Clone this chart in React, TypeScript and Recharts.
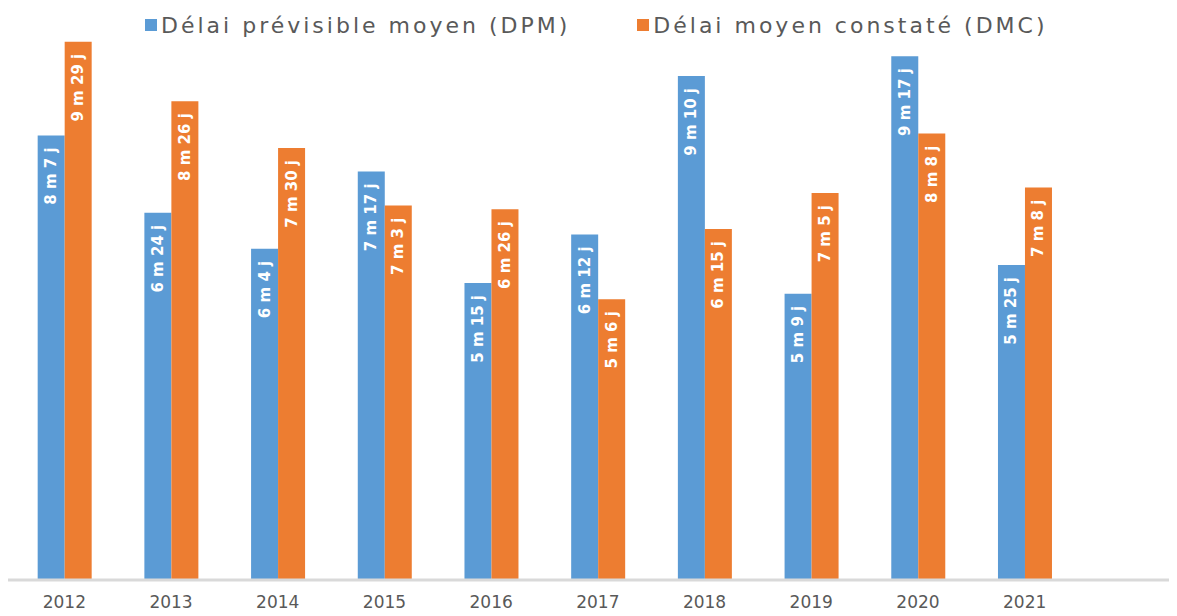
import React from 'react';
import { Bar, BarChart, LabelList, Legend, XAxis, YAxis } from 'recharts';

const years = ['2012', '2013', '2014', '2015', '2016', '2017', '2018', '2019', '2020', '2021'];

// durations in days (months x 30 + days)
const dpmValues = [247, 204, 184, 227, 165, 192, 280, 159, 291, 175];
const dmcValues = [299, 266, 240, 208, 206, 156, 195, 215, 248, 218];

const dpmLabels = ['8 m 7 j', '6 m 24 j', '6 m 4 j', '7 m 17 j', '5 m 15 j', '6 m 12 j', '9 m 10 j', '5 m 9 j', '9 m 17 j', '5 m 25 j'];
const dmcLabels = ['9 m 29 j', '8 m 26 j', '7 m 30 j', '7 m 3 j', '6 m 26 j', '5 m 6 j', '6 m 15 j', '7 m 5 j', '8 m 8 j', '7 m 8 j'];

const seriesNames = ['Délai prévisible moyen (DPM)', 'Délai moyen constaté (DMC)'];
const colors = ['#5B9BD5', '#ED7D31'];

const data = years.map((year, i) => ({
  year,
  dpm: dpmValues[i],
  dmc: dmcValues[i],
  dpmLabel: dpmLabels[i],
  dmcLabel: dmcLabels[i],
}));

const font = '"DejaVu Sans", sans-serif';

function BarLabel(props: any) {
  const { x, y, width, value } = props;
  const cx = Number(x) + Number(width) / 2;
  const ty = Number(y) + 12;
  return (
    <text
      x={cx}
      y={ty}
      transform={`rotate(-90 ${cx} ${ty})`}
      textAnchor="end"
      dominantBaseline="central"
      fill="#fff"
      fontWeight="bold"
      fontSize={15}
      fontFamily={font}
    >
      {value}
    </text>
  );
}

function TopLegend() {
  return (
    <div style={{ display: 'flex', height: 30, alignItems: 'center', fontFamily: font }}>
      {seriesNames.map((name, i) => (
        <div key={name} style={{ display: 'flex', alignItems: 'center', marginLeft: i === 0 ? 137 : 67 }}>
          <span style={{ width: 12, height: 12, background: colors[i], marginRight: 4 }} />
          <span style={{ fontSize: 22, color: '#595959', letterSpacing: 3, whiteSpace: 'nowrap' }}>{name}</span>
        </div>
      ))}
    </div>
  );
}

export default function App() {
  return (
    <div style={{ margin: -8, width: 1177, height: 616, background: '#fff' }}>
      <BarChart
        width={1177}
        height={616}
        data={data}
        margin={{ top: 10, right: 0, left: 8, bottom: 6 }}
        barCategoryGap="25%"
        barGap={0}
      >
        <Legend verticalAlign="top" align="left" content={() => <TopLegend />} />
        <XAxis
          dataKey="year"
          axisLine={{ stroke: '#D9D9D9', strokeWidth: 3 }}
          tickLine={false}
          tick={{ fill: '#595959', fontSize: 17, fontFamily: font }}
          tickMargin={10}
          height={30}
          padding={{ left: 3, right: 99 }}
        />
        <YAxis hide domain={[0, 300]} />
        <Bar dataKey="dpm" fill={colors[0]} isAnimationActive={false}>
          <LabelList dataKey="dpmLabel" content={BarLabel} />
        </Bar>
        <Bar dataKey="dmc" fill={colors[1]} isAnimationActive={false}>
          <LabelList dataKey="dmcLabel" content={BarLabel} />
        </Bar>
      </BarChart>
    </div>
  );
}
